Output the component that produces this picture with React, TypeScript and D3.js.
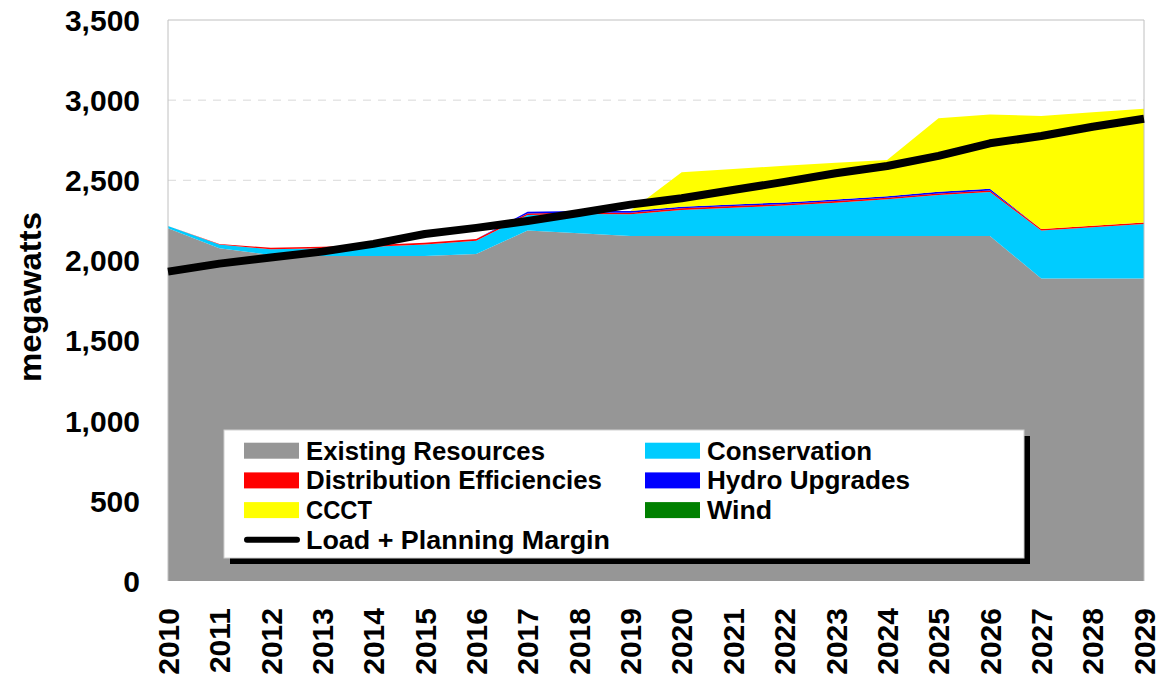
import React from "react";
import * as d3 from "d3";

const years = [2010, 2011, 2012, 2013, 2014, 2015, 2016, 2017, 2018, 2019, 2020, 2021, 2022, 2023, 2024, 2025, 2026, 2027, 2028, 2029];
const existingResources = [2200, 2076, 2034, 2028, 2028, 2028, 2040, 2186, 2169, 2152, 2152, 2152, 2152, 2152, 2152, 2152, 2152, 1888, 1888, 1888];
const conservation = [15, 24, 35, 48, 58, 72, 83, 97, 120, 136, 163, 177, 190, 208, 229, 256, 275, 298, 319, 339];
const distributionEfficiencies = [0, 3, 10, 10, 10, 10, 10, 10, 10, 10, 10, 10, 10, 10, 10, 10, 10, 10, 10, 10];
const hydroUpgrades = [0, 0, 0, 0, 0, 0, 0, 10, 10, 10, 10, 10, 10, 10, 10, 10, 10, 0, 0, 0];
const ccct = [0, 0, 0, 0, 0, 0, 0, 0, 0, 0, 215, 221, 229, 230, 225, 459, 464, 705, 707, 710];
const wind = [0, 0, 0, 0, 0, 0, 0, 0, 0, 0, 0, 0, 0, 0, 0, 0, 0, 0, 0, 0];
const loadPlanningMargin = [1930, 1980, 2018, 2055, 2103, 2165, 2203, 2246, 2296, 2348, 2388, 2439, 2490, 2544, 2589, 2652, 2731, 2776, 2834, 2884];

const yTicks = [0, 500, 1000, 1500, 2000, 2500, 3000, 3500];

const seriesNames = ["Existing Resources", "Conservation", "Distribution Efficiencies", "Hydro Upgrades", "CCCT", "Wind"];
const seriesColors = ["#969696", "#00CCFF", "#FF0000", "#0000FF", "#FFFF00", "#008000"];
const seriesValues = [existingResources, conservation, distributionEfficiencies, hydroUpgrades, ccct, wind];
const lineName = "Load + Planning Margin";

const W = 1160, H = 681;
const M = { left: 168, right: 1144, top: 20, bottom: 581 };
const FONT = "'Liberation Sans', Arial, sans-serif";

export default function App() {
  const x = d3.scaleLinear().domain([years[0], years[years.length - 1]]).range([M.left, M.right]);
  const y = d3.scaleLinear().domain([0, 3500]).range([M.bottom, M.top]);

  const rows = years.map((yr, i) => {
    const r: any = { year: yr };
    seriesNames.forEach((n, k) => (r[n] = seriesValues[k][i]));
    return r;
  });
  const stacked = d3.stack<any>().keys(seriesNames)(rows);
  const area = d3.area<any>()
    .x((d) => x(d.data.year))
    .y0((d) => y(d[0]))
    .y1((d) => y(d[1]));
  const line = d3.line<number>()
    .x((_, i) => x(years[i]))
    .y((d) => y(d));

  const fmt = d3.format(",");

  // legend layout
  const lg = { x: 224, y: 430, w: 800, h: 128 };
  const rowY = [450.7, 480.4, 510.1, 539.8];
  const colX = [244, 645];
  const legendItems = [
    { name: seriesNames[0], color: seriesColors[0], col: 0, row: 0, len: 239 },
    { name: seriesNames[1], color: seriesColors[1], col: 1, row: 0, len: 165 },
    { name: seriesNames[2], color: seriesColors[2], col: 0, row: 1, len: 296 },
    { name: seriesNames[3], color: seriesColors[3], col: 1, row: 1, len: 203 },
    { name: seriesNames[4], color: seriesColors[4], col: 0, row: 2, len: 66 },
    { name: seriesNames[5], color: seriesColors[5], col: 1, row: 2, len: 65 },
  ];

  return (
    <svg width={W} height={H} style={{ position: "absolute", left: 0, top: 0, display: "block", background: "#fff" }}>
      {/* grid */}
      {yTicks.filter((t) => t > 0 && t < 3500).map((t) => (
        <line key={t} x1={M.left} x2={M.right} y1={y(t)} y2={y(t)} stroke="#d9d9d9" strokeWidth={1} strokeDasharray="8,7" />
      ))}
      {/* areas */}
      {stacked.map((s, k) => (
        <path key={s.key} d={area(s) || ""} fill={seriesColors[k]} stroke="none" />
      ))}
      {/* frame */}
      <path d={`M${M.left},${M.bottom}V${M.top}H${M.right}V${M.bottom}`} fill="none" stroke="#c0c0c0" strokeWidth={1} />
      {/* load line */}
      <path d={line(loadPlanningMargin) || ""} fill="none" stroke="#000" strokeWidth={8} strokeLinejoin="round" />

      {/* y ticks */}
      {yTicks.map((t) => (
        <text key={t} x={140} y={y(t)} dy="0.36em" textAnchor="end" fontFamily={FONT} fontWeight="bold" fontSize={30}>
          {fmt(t)}
        </text>
      ))}
      {/* x ticks */}
      {years.map((yr) => (
        <text key={yr} transform={`translate(${x(yr)},608) rotate(-90)`} dy="0.36em" textAnchor="end" fontFamily={FONT} fontWeight="bold" fontSize={30}>
          {yr}
        </text>
      ))}
      {/* y axis label */}
      <text transform={`translate(30,297) rotate(-90)`} dy="0.36em" textAnchor="middle" fontFamily={FONT} fontWeight="bold" fontSize={31} textLength={170} lengthAdjust="spacingAndGlyphs">
        megawatts
      </text>

      {/* legend */}
      <rect x={lg.x + 6} y={lg.y + 6} width={lg.w} height={lg.h} fill="#000" />
      <rect x={lg.x} y={lg.y} width={lg.w} height={lg.h} fill="#fff" stroke="#d0d0d0" strokeWidth={1} />
      {legendItems.map((it) => (
        <g key={it.name}>
          <rect x={colX[it.col]} y={rowY[it.row] - 8} width={55} height={16} fill={it.color} />
          <text x={colX[it.col] + 62} y={rowY[it.row]} dy="0.34em" fontFamily={FONT} fontWeight="bold" fontSize={26.5} textLength={it.len} lengthAdjust="spacingAndGlyphs">
            {it.name}
          </text>
        </g>
      ))}
      <line x1={colX[0] + 3} x2={colX[0] + 53} y1={rowY[3]} y2={rowY[3]} stroke="#000" strokeWidth={6} strokeLinecap="round" />
      <text x={colX[0] + 62} y={rowY[3]} dy="0.34em" fontFamily={FONT} fontWeight="bold" fontSize={26.5} textLength={304} lengthAdjust="spacingAndGlyphs">
        {lineName}
      </text>
    </svg>
  );
}
